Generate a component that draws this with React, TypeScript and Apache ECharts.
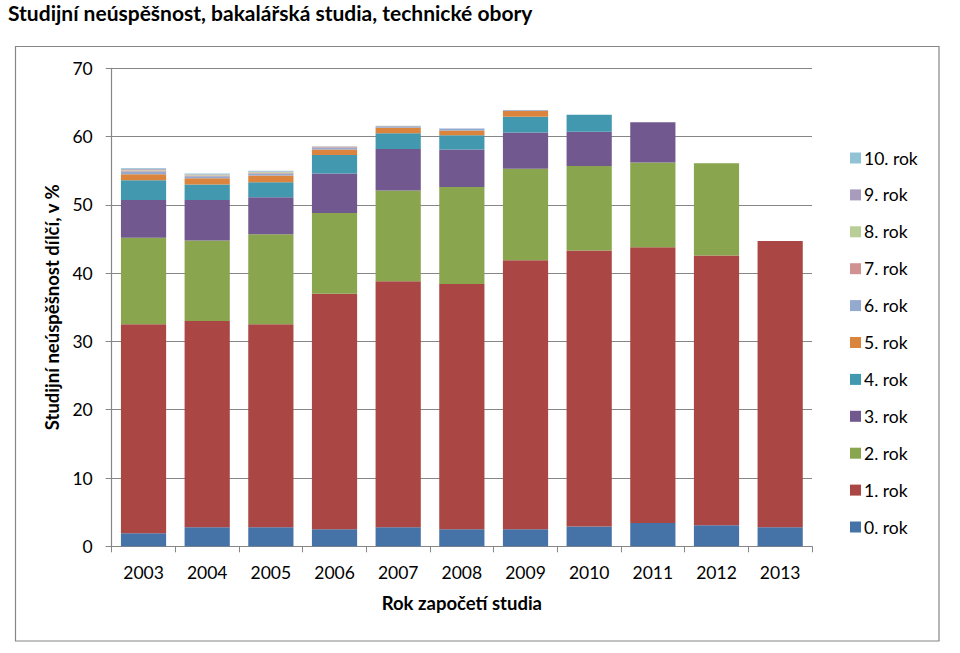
import React, { useEffect, useRef } from "react";
import * as echarts from "echarts";

const years = ["2003", "2004", "2005", "2006", "2007", "2008", "2009", "2010", "2011", "2012", "2013"];
const seriesNames = ["0. rok", "1. rok", "2. rok", "3. rok", "4. rok", "5. rok", "6. rok", "7. rok", "8. rok", "9. rok", "10. rok"];
const rok0 = [1.9, 2.8, 2.8, 2.5, 2.8, 2.5, 2.5, 2.9, 3.4, 3.1, 2.8];
const rok1 = [30.6, 30.2, 29.7, 34.5, 36.0, 35.9, 39.4, 40.4, 40.4, 39.5, 41.9];
const rok2 = [12.7, 11.8, 13.2, 11.8, 13.3, 14.2, 13.4, 12.4, 12.4, 13.5, null];
const rok3 = [5.5, 5.9, 5.4, 5.8, 6.1, 5.5, 5.3, 5.0, 5.9, null, null];
const rok4 = [2.9, 2.3, 2.2, 2.7, 2.3, 2.1, 2.3, 2.5, null, null, null];
const rok5 = [0.9, 0.9, 1.0, 0.8, 0.8, 0.7, 0.9, null, null, null, null];
const rok6 = [0.4, 0.3, 0.3, 0.3, 0.2, 0.3, 0.1, null, null, null, null];
const rok7 = [0.15, 0.1, 0.1, 0.1, 0.05, null, null, null, null, null, null];
const rok8 = [0.1, 0.1, 0.1, 0.05, 0.05, null, null, null, null, null, null];
const rok9 = [0.15, 0.1, 0.1, 0.05, null, null, null, null, null, null, null];
const rok10 = [0.1, 0.1, 0.1, null, null, null, null, null, null, null, null];
const seriesValues = [rok0, rok1, rok2, rok3, rok4, rok5, rok6, rok7, rok8, rok9, rok10];
const colors = ["#4572A7", "#AA4643", "#89A54E", "#71588F", "#4198AF", "#DB843D", "#93A9CF", "#D19392", "#B9CD96", "#A99BBD", "#92C3D5"];
const yTicks = { min: 0, max: 70, interval: 10 };

const FONT = "Lato, 'Noto Sans', sans-serif";

export default function App() {
  const ref = useRef<HTMLDivElement>(null);
  useEffect(() => {
    document.body.style.margin = "0";
    const chart = echarts.init(ref.current!, null, { renderer: "svg" });
    chart.setOption({
      animation: false,
      textStyle: { fontFamily: FONT },
      graphic: [
        {
          type: "rect",
          shape: { x: 15.5, y: 46.5, width: 923.5, height: 594.5 },
          style: { fill: "none", stroke: "#868686", lineWidth: 1.2 },
          silent: true,
        },
        {
          type: "text",
          left: 8,
          top: 2,
          style: {
            text: "Studijní neúspěšnost, bakalářská studia, technické obory",
            font: `bold 21px ${FONT}`,
            fill: "#000",
          },
        },
      ],
      legend: {
        orient: "vertical",
        left: 845,
        top: 144,
        itemWidth: 11,
        itemHeight: 11,
        itemGap: 18.9,
        icon: "rect",
        data: [...seriesNames].reverse(),
        textStyle: { fontSize: 17.5, color: "#000", fontFamily: FONT, padding: [0, 0, 0, -2] },
      },
      grid: { left: 111.7, right: 148, top: 68.3, bottom: 106.7 },
      xAxis: {
        type: "category",
        data: years,
        name: "Rok započetí studia",
        nameLocation: "middle",
        nameGap: 47,
        nameTextStyle: { fontSize: 18.5, fontWeight: "bold", color: "#000" },
        axisLine: { lineStyle: { color: "#868686", width: 1.2 } },
        axisTick: { show: true, length: 6, lineStyle: { color: "#868686" } },
        axisLabel: { fontSize: 17.5, color: "#000", margin: 17 },
      },
      yAxis: {
        type: "value",
        min: yTicks.min,
        max: yTicks.max,
        interval: yTicks.interval,
        name: "Studijní neúspěšnost dílčí, v %",
        nameLocation: "middle",
        nameGap: 50,
        nameTextStyle: { fontSize: 18.5, fontWeight: "bold", color: "#000" },
        axisLine: { show: true, lineStyle: { color: "#868686", width: 1.2 } },
        axisTick: { show: true, length: 6, lineStyle: { color: "#868686" } },
        axisLabel: { fontSize: 17.5, color: "#000", margin: 19 },
        splitLine: { lineStyle: { color: "#868686", width: 1.2 } },
      },
      series: seriesNames.map((name, i) => ({
        name,
        type: "bar",
        stack: "total",
        data: seriesValues[i],
        barCategoryGap: "29%",
        itemStyle: { color: colors[i] },
      })),
    });
    return () => chart.dispose();
  }, []);
  return <div ref={ref} style={{ width: 960, height: 653 }} />;
}
